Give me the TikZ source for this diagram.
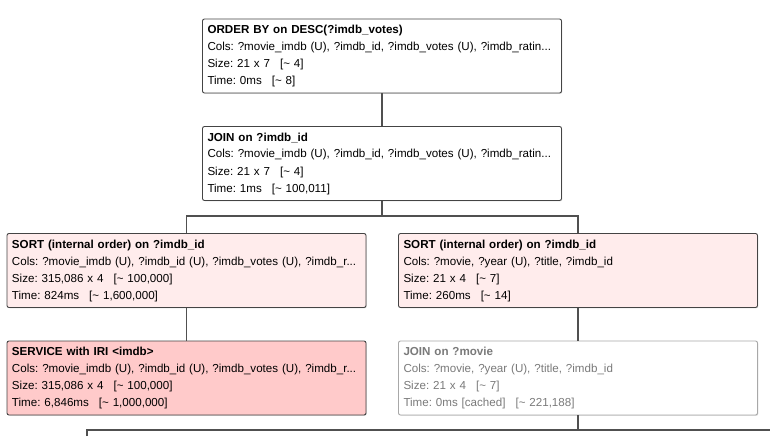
\documentclass[tikz,border=0pt]{standalone}
\usepackage{fontspec}
\setmainfont{Liberation Sans}
\usetikzlibrary{shadows}

\definecolor{edgegray}{HTML}{505050}
\definecolor{boxline}{HTML}{444444}
\definecolor{sortfill}{HTML}{FFECEC}
\definecolor{servicefill}{HTML}{FFCACA}
\definecolor{cachedline}{HTML}{A8A8A8}
\definecolor{cachedtext}{HTML}{7A7A7A}

\newcommand{\tl}{\textasciitilde}
\newcommand{\gp}{\hspace{10pt}}

\tikzset{
  opbox/.style={draw=boxline, line width=0.9pt, rounded corners=2pt,
    fill=white, minimum width=359pt, minimum height=74pt,
    text width=349pt, inner sep=5pt, align=left,
    font=\fontsize{11.6}{17}\selectfont\frenchspacing,
    drop shadow={shadow xshift=0.8pt, shadow yshift=-0.8pt, opacity=0.25}},
  sortbox/.style={opbox, fill=sortfill},
  servicebox/.style={opbox, fill=servicefill},
  cachedbox/.style={opbox, draw=cachedline, text=cachedtext},
  link/.style={draw=edgegray, line width=1.2pt}
}

\begin{document}
\begin{tikzpicture}[x=1pt, y=-1pt]
  \useasboundingbox (0,0) rectangle (770,436);

  \node[opbox] (order) at (382,56) {\textbf{ORDER BY on DESC(?imdb\_votes)}\\
    Cols: ?movie\_imdb (U), ?imdb\_id, ?imdb\_votes (U), ?imdb\_ratin...\\
    Size: 21 x 7\gp[\tl\ 4]\\
    Time: 0ms\gp[\tl\ 8]};

  \node[opbox] (join) at (382,163.5) {\textbf{JOIN on ?imdb\_id}\\
    Cols: ?movie\_imdb (U), ?imdb\_id, ?imdb\_votes (U), ?imdb\_ratin...\\
    Size: 21 x 7\gp[\tl\ 4]\\
    Time: 1ms\gp[\tl\ 100,011]};

  \node[sortbox] (sortL) at (186.5,270.5) {\textbf{SORT (internal order) on ?imdb\_id}\\
    Cols: ?movie\_imdb (U), ?imdb\_id (U), ?imdb\_votes (U), ?imdb\_r...\\
    Size: 315,086 x 4\gp[\tl\ 100,000]\\
    Time: 824ms\gp[\tl\ 1,600,000]};

  \node[sortbox] (sortR) at (578,270.5) {\textbf{SORT (internal order) on ?imdb\_id}\\
    Cols: ?movie, ?year (U), ?title, ?imdb\_id\\
    Size: 21 x 4\gp[\tl\ 7]\\
    Time: 260ms\gp[\tl\ 14]};

  \node[servicebox] (service) at (186.5,378) {\textbf{SERVICE with IRI <imdb>}\\
    Cols: ?movie\_imdb (U), ?imdb\_id (U), ?imdb\_votes (U), ?imdb\_r...\\
    Size: 315,086 x 4\gp[\tl\ 100,000]\\
    Time: 6,846ms\gp[\tl\ 1,000,000]};

  \node[cachedbox] (joinM) at (578,378) {\textbf{JOIN on ?movie}\\
    Cols: ?movie, ?year (U), ?title, ?imdb\_id\\
    Size: 21 x 4\gp[\tl\ 7]\\
    Time: 0ms [cached]\gp[\tl\ 221,188]};

  % tree edges
  \coordinate (split) at (382,216);
  \coordinate (bsplit) at (578,430);
  \coordinate (bleft) at (87,430);
  \coordinate (bright) at (770,430);
  \coordinate (bdown) at (87,436);

  \path[link] (order.south) -- (join.north);
  \path[link] (join.south) -- (split);
  \path[link] (sortL.north) |- (split) -| (sortR.north);
  \path[link] (sortL.south) -- (service.north);
  \path[link] (sortR.south) -- (joinM.north);
  \path[link] (joinM.south) -- (bsplit);
  \path[link] (bdown) -- (bleft) -- (bright);
\end{tikzpicture}
\end{document}
